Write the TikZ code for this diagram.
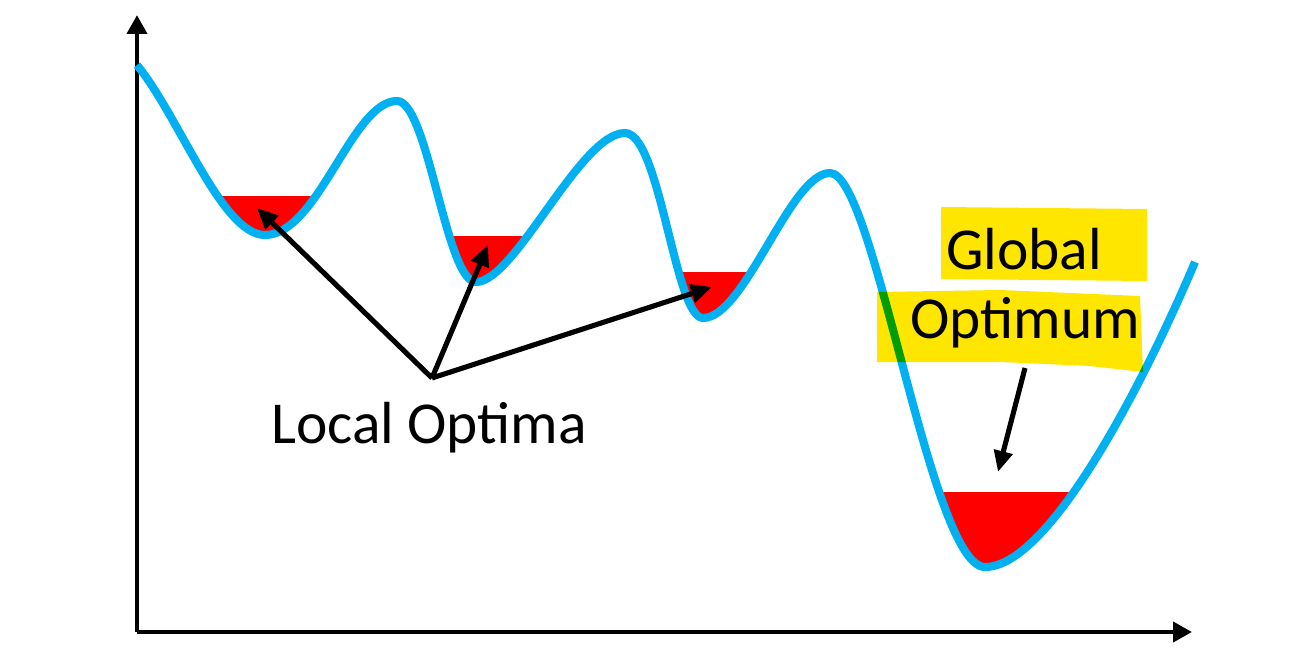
\documentclass[tikz,border=0pt]{standalone}
\usepackage{fontspec}
\setmainfont{Carlito}
\usetikzlibrary{arrows.meta}
\definecolor{curveblue}{RGB}{0,176,240}
\definecolor{hlyellow}{RGB}{255,230,0}
\tikzset{
  curveline/.style={draw=curveblue,line width=2.3pt},
  axisline/.style={draw=black,line width=1.4pt,-{Triangle[length=5.4pt,width=5.6pt]}},
  arr/.style={draw=black,line width=1.45pt,-{Triangle[length=6pt,width=5.2pt]}},
  lbl/.style={font=\fontsize{16.9}{20}\selectfont,inner sep=0pt,anchor=base},
}
\newcommand{\curvepath}{(137,65) .. controls (180,118) and (222,235) .. (265,235)
  .. controls (318,235) and (352,101) .. (397,101)
  .. controls (428,101) and (446,282) .. (476,282)
  .. controls (515,282) and (580,133) .. (625,133)
  .. controls (660,133) and (675,318) .. (703,318)
  .. controls (745,318) and (790,173) .. (830,173)
  .. controls (875,173) and (930,567) .. (985,567)
  .. controls (1050,567) and (1145,380) .. (1195,262)}
\begin{document}
\begin{tikzpicture}[x=0.01cm,y=-0.01cm]
\useasboundingbox (0,0) rectangle (1295,655);
% red wells
\begin{scope}
  \clip \curvepath -- (1195,0) -- (137,0) -- cycle;
  \fill[red] (137,196) rectangle (397,300);
  \fill[red] (397,236) rectangle (625,300);
  \fill[red] (625,272) rectangle (830,330);
  \fill[red] (830,492) rectangle (1195,600);
\end{scope}
% axes
\coordinate (o) at (137,632);
\coordinate (ytip) at (137,15);
\coordinate (xtip) at (1192,632);
\draw[axisline] (o) -- (ytip);
\draw[axisline] (o) -- (xtip);
% curve
\draw[curveline] \curvepath;
% highlights
\begin{scope}[blend mode=multiply]
  \fill[hlyellow] (941,207) -- (1147,209) -- (1147,281) -- (941,279) -- cycle;
  \fill[hlyellow] (877,292) -- (1000,290) -- (1140,296) -- (1143,372) -- (1090,366) -- (1000,362) -- (877,362) -- cycle;
\end{scope}
% labels
\node[lbl] (local) at (429,443) {Local Optima};
\node[lbl] (global) at (1024,270) {Global};
\node[lbl] (optimum) at (1025,338) {Optimum};
% arrows
\coordinate (lo) at (432,378);
\coordinate (t1) at (257,208);
\coordinate (t2) at (488,245);
\coordinate (t3) at (712,287);
\draw[arr] (lo) -- (t1);
\draw[arr] (lo) -- (t2);
\draw[arr] (lo) -- (t3);
\coordinate (g0) at (1025,368);
\coordinate (g1) at (998,472);
\draw[arr] (g0) -- (g1);
\end{tikzpicture}
\end{document}
